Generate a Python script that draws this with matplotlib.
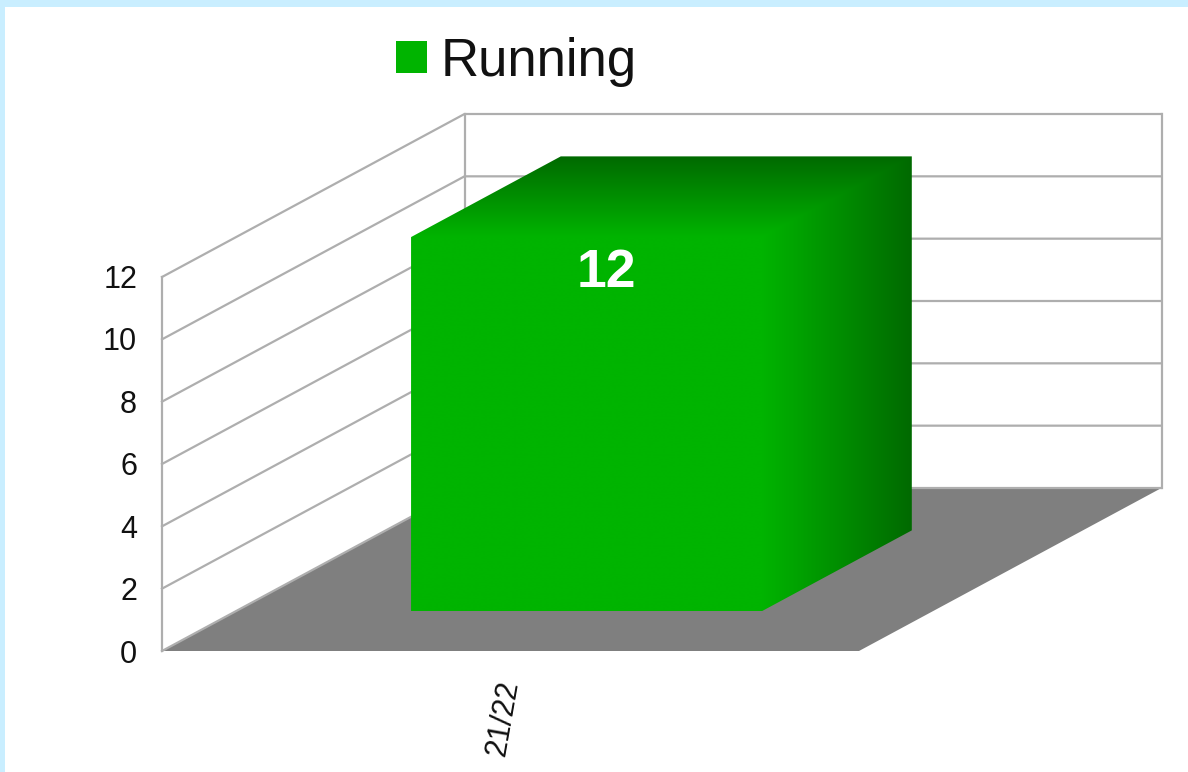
import numpy as np
import matplotlib
matplotlib.use("Agg")
import matplotlib.pyplot as plt
from matplotlib.patches import Polygon, Rectangle, Patch
from matplotlib.colors import LinearSegmentedColormap

plt.rcParams['font.family'] = ['Liberation Sans', 'DejaVu Sans']

# data
categories = ['21/22']
series_name = 'Running'
values = [12]
y_ticks = [0, 2, 4, 6, 8, 10, 12]
y_top = 12

# colours
page_bg = '#c9eeff'
grid_col = '#aeaeae'
floor_col = '#7f7f7f'
bar_col = '#00b400'
bar_dark = '#006a00'
text_col = '#111111'

W, H = 1188, 772
fig = plt.figure(figsize=(W / 100, H / 100), dpi=100, facecolor=page_bg)
ax = fig.add_axes([0, 0, 1, 1])
ax.set_xlim(0, W)
ax.set_ylim(H, 0)
ax.axis('off')

# oblique projection: x in [0,1] across categories, value up, depth in [0,1]
X0, Y0 = 162.0, 651.0
XW = 697.0
DX, DY = 302.5, -163.0
UNIT = (651.0 - 277.0) / y_top


def proj(x, v, d):
    return (X0 + XW * x + DX * d, Y0 - UNIT * v + DY * d)


# white panel
ax.add_patch(Rectangle((5, 7), W - 5, H - 7, fc='white', ec='none', zorder=0))

# floor
ax.add_patch(Polygon([proj(0, 0, 0), proj(1, 0, 0), proj(1, 0, 1), proj(0, 0, 1)],
                     closed=True, fc=floor_col, ec='none', zorder=1))

# walls and grid
for t in y_ticks:
    xs, ys = zip(proj(0, t, 0), proj(0, t, 1), proj(1, t, 1))
    ax.plot(xs, ys, color=grid_col, lw=1.6, zorder=2, solid_joinstyle='miter')
    ax.text(X0 - 25, proj(0, t, 0)[1] + 4 - t * 0.12, str(t), ha='right', va='center',
            fontsize=22, color=text_col, zorder=6)
for d, x in [(0, 0), (1, 0), (1, 1)]:
    xs, ys = zip(proj(x, 0, d), proj(x, y_top, d))
    ax.plot(xs, ys, color=grid_col, lw=1.6, zorder=2)

# bar: one shaded image clipped to the outline of the three visible faces
x_left, x_right = 0.2510, 0.7546
d_front, d_back = 0.245, 0.74
cmap = LinearSegmentedColormap.from_list('bar', [bar_col, bar_dark])
for cat, v in zip(categories, values):
    fl, ft = proj(x_left, 0, d_front), proj(x_left, v, d_front)
    rb, rt = proj(x_right, 0, d_front), proj(x_right, v, d_front)
    bb, bt = proj(x_right, 0, d_back), proj(x_right, v, d_back)
    lt = proj(x_left, v, d_back)

    px = np.linspace(fl[0], bt[0], 500)
    py = np.linspace(fl[1], bt[1], 500)
    gx, gy = np.meshgrid(px, py)
    shade = np.maximum(np.clip((gx - rt[0]) / (bt[0] - rt[0]), 0, 1),
                       np.clip((rt[1] - gy) / (rt[1] - bt[1]), 0, 1))
    im = ax.imshow(shade, cmap=cmap, vmin=0, vmax=1, aspect='auto', origin='lower',
                   extent=(fl[0], bt[0], fl[1], bt[1]), zorder=3,
                   interpolation='bilinear')
    outline = Polygon([fl, rb, bb, bt, lt, ft], closed=True, transform=ax.transData,
                      fc='none', ec='none')
    ax.add_patch(outline)
    im.set_clip_path(outline)

    ax.text((fl[0] + rb[0]) / 2 + 19.5, ft[1] + 36, str(v), ha='center', va='center',
            fontsize=38.5, fontweight='bold', color='white', zorder=6)
    ax.text(503, 718, cat, rotation=80, ha='center', va='center',
            fontsize=22, color=text_col, zorder=6)

ax.set_xlim(0, W)
ax.set_ylim(H, 0)

# legend
ax.legend(handles=[Patch(fc=bar_col, ec='none', label=series_name)],
          loc='center left', bbox_to_anchor=(396, 62), bbox_transform=ax.transData,
          frameon=False, fontsize=38, handlelength=0.59, handleheight=0.56,
          handletextpad=0.25, borderpad=0, borderaxespad=0, labelcolor=text_col)

fig.savefig('out.png', dpi=100, facecolor=fig.get_facecolor())
